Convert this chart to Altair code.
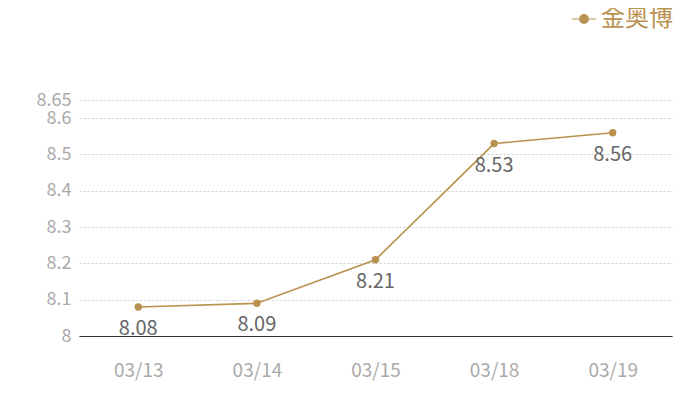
import altair as alt
import pandas as pd

dates = ["03/13", "03/14", "03/15", "03/18", "03/19"]
values = [8.08, 8.09, 8.21, 8.53, 8.56]
series = "金奥博"
y_ticks = [8, 8.1, 8.2, 8.3, 8.4, 8.5, 8.6, 8.65]

df = pd.DataFrame({"date": dates, "value": values, "series": [series] * len(dates)})

GOLD = "#b8924e"
FONT = "Noto Sans CJK SC"

x = alt.X("date:N", sort=dates, title=None,
          scale=alt.Scale(padding=0.5),
          axis=alt.Axis(labelAngle=0, ticks=False, domainColor="#333333",
                        labelColor="#aaaaaa", labelFontSize=19, labelPadding=25,
                        labelFont=FONT, grid=False))
y = alt.Y("value:Q", title=None,
          scale=alt.Scale(domain=[8, 8.65], nice=False, zero=False),
          axis=alt.Axis(values=y_ticks, domain=False, ticks=False,
                        labelColor="#aaaaaa", labelFontSize=18, labelFont=FONT,
                        labelPadding=8, gridColor="#cccccc", gridDash=[2, 2],
                        labelOverlap=False, format=".2~f"))

color = alt.Color("series:N", title=None,
                  scale=alt.Scale(range=[GOLD]),
                  legend=alt.Legend(orient="none", legendX=493, legendY=-93,
                                    labelFontSize=24, labelColor=GOLD, labelFont=FONT,
                                    symbolType="M-1.2,0H1.2M0.42,0A0.42,0.42,0,1,1,-0.42,0A0.42,0.42,0,1,1,0.42,0Z",
                                    symbolSize=420, symbolStrokeWidth=1.2,
                                    symbolFillColor=GOLD, symbolStrokeColor=GOLD,
                                    labelOffset=5, labelLimit=200))

base = alt.Chart(df).encode(x=x, y=y)
line = base.mark_line(strokeWidth=1.6).encode(color=color)
pts = base.mark_circle(size=55, opacity=1, color=GOLD)
labels = base.mark_text(dy=22, fontSize=20, color="#666666", font=FONT).encode(text=alt.Text("value:Q", format=".2f"))

chart = (line + pts + labels).properties(
    width=593, height=236,
    autosize=alt.AutoSizeParams(type="none"),
    padding={"left": 71, "top": 92, "right": 20, "bottom": 50},
).configure_view(stroke=None)

chart.save("out.html", embed_options={"renderer": "svg", "actions": False})
